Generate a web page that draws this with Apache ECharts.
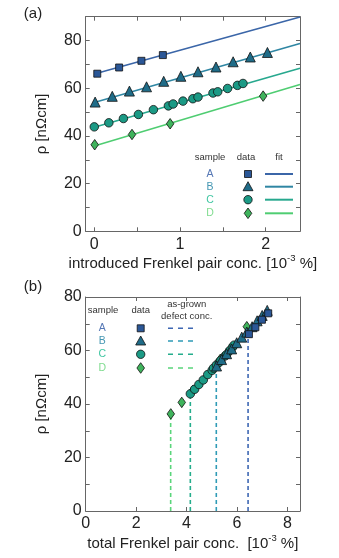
<!DOCTYPE html>
<html>
<head>
<meta charset="utf-8">
<script src="https://cdn.jsdelivr.net/npm/echarts@6/dist/echarts.min.js"></script>
<style>html,body{margin:0;padding:0;background:#fff;}#c{width:339px;height:558px;}</style>
</head>
<body>
<div id="c"></div>
<script>
// ---- data (panel a: introduced Frenkel pair conc. vs resistivity) ----
const samples = ['A', 'B', 'C', 'D'];
const xA = [0.035, 0.29, 0.55, 0.80];
const yA = [66.1, 68.7, 71.5, 73.9];
const xB = [0.01, 0.21, 0.41, 0.61, 0.81, 1.01, 1.21, 1.42, 1.62, 1.82, 2.02];
const yB = [54.2, 56.6, 58.8, 60.6, 62.9, 65.0, 66.9, 68.9, 71.1, 73.1, 75.0];
const xC = [0.0, 0.17, 0.34, 0.515, 0.69, 0.865, 0.92, 1.035, 1.15, 1.21, 1.385, 1.44, 1.555, 1.67, 1.735];
const yC = [43.8, 45.5, 47.3, 49.0, 51.0, 52.6, 53.4, 54.6, 55.6, 56.3, 58.0, 58.5, 59.9, 61.2, 62.0];
const xD = [0.005, 0.44, 0.885, 1.97, 3.02];
const yD = [36.3, 40.6, 45.1, 56.7, 68.9];
// fit lines: value at x = fitX[0], fitX[1]
const fitX = [0, 2.4];
const fitA = [66.0, 89.9];
const fitB = [54.0, 78.8];
const fitC = [43.6, 68.4];
const fitD = [35.8, 61.6];
// as-grown defect conc. (panel b offset)
const asGrown = [6.44, 5.18, 4.15, 3.37];
// ticks
const aXTicks = [0, 0.5, 1, 1.5, 2];
const aXLabels = [0, 1, 2];
const aYTicks = [0, 10, 20, 30, 40, 50, 60, 70, 80, 90];
const aYLabels = [0, 20, 40, 60, 80];
const bXTicks = [0, 2, 4, 6, 8];
const bXLabels = [0, 2, 4, 6, 8];
const bYTicks = [0, 10, 20, 30, 40, 50, 60, 70, 80];
const bYLabels = [0, 20, 40, 60, 80];

const FONT = '"Liberation Sans", Arial, Helvetica, sans-serif';
const markerFill = ['#2b5797', '#1f6c88', '#1b9a85', '#3fb35c'];
const fitColor = ['#3b66a8', '#2f86a3', '#27a88e', '#4fcd72'];
const letterColor = ['#5577b5', '#4597b3', '#40c6a2', '#80dc90'];
const dashColor = ['#3d67b3', '#2f9bb6', '#25ad8c', '#5ad57b'];
const symbols = ['rect', 'triangle', 'circle', 'diamond'];
const symSizes = [7, 10, 8.5, [7.5, 10.5]];

const xs = [xA, xB, xC, xD];
const ys = [yA, yB, yC, yD];
const fits = [fitA, fitB, fitC, fitD];

const zip = (a, b) => a.map((v, i) => [v, b[i]]);

const axisLineStyle = { color: '#666', width: 1 };
function mkX(grid, min, max, ticks, labels, pos, name, gap) {
  const show = pos === 'bottom';
  return {
    type: 'value', gridIndex: grid, min: min, max: max, position: pos,
    axisLine: { show: true, onZero: false, lineStyle: axisLineStyle },
    axisTick: { show: true, inside: true, length: 4, lineStyle: axisLineStyle, customValues: ticks },
    axisLabel: { show: show, customValues: labels, color: '#222', fontSize: 16, fontFamily: FONT, margin: 5 },
    splitLine: { show: false },
    name: show ? name : '', nameLocation: 'middle', nameGap: gap,
    nameTextStyle: {
      rich: {
        t: { fontSize: 15, color: '#222', fontFamily: FONT, lineHeight: 18, verticalAlign: 'bottom' },
        s: { fontSize: 9.5, color: '#222', fontFamily: FONT, lineHeight: 18, verticalAlign: 'top' }
      }
    }
  };
}
function mkY(grid, min, max, ticks, labels, pos, name, gap) {
  const show = pos === 'left';
  return {
    type: 'value', gridIndex: grid, min: min, max: max, position: pos,
    axisLine: { show: true, onZero: false, lineStyle: axisLineStyle },
    axisTick: { show: true, inside: true, length: 4, lineStyle: axisLineStyle, customValues: ticks },
    axisLabel: { show: show, customValues: labels, color: '#222', fontSize: 16, fontFamily: FONT, margin: 4 },
    splitLine: { show: false },
    name: show ? name : '', nameLocation: 'middle', nameGap: gap,
    nameTextStyle: { fontSize: 15, color: '#222', fontFamily: FONT }
  };
}

const series = [];
// panel (a) fit lines
for (let i = 0; i < 4; i++) {
  series.push({
    type: 'line', xAxisIndex: 0, yAxisIndex: 0, data: zip(fitX, fits[i]),
    symbol: 'none', lineStyle: { color: fitColor[i], width: 1.6 }, clip: true, z: 2, silent: true
  });
}
// panel (a) markers
for (let i = 0; i < 4; i++) {
  series.push({
    type: 'scatter', xAxisIndex: 0, yAxisIndex: 0, data: zip(xs[i], ys[i]),
    symbol: symbols[i], symbolSize: symSizes[i], clip: true, z: 3,
    itemStyle: { color: markerFill[i], borderColor: '#111', borderWidth: 0.8, opacity: 1 }
  });
}
// panel (b) dashed as-grown lines
for (let i = 0; i < 4; i++) {
  series.push({
    type: 'line', xAxisIndex: 2, yAxisIndex: 2,
    data: [[asGrown[i], 0], [asGrown[i], ys[i][0]]],
    symbol: 'none', lineStyle: { color: dashColor[i], width: 1.6, type: [4, 3] }, z: 2, silent: true
  });
}
// panel (b) markers (draw D, C, B, A)
for (let i = 3; i >= 0; i--) {
  series.push({
    type: 'scatter', xAxisIndex: 2, yAxisIndex: 2,
    data: zip(xs[i].map(v => +(v + asGrown[i]).toFixed(3)), ys[i]),
    symbol: symbols[i], symbolSize: symSizes[i], clip: true, z: 3 + (3 - i),
    itemStyle: { color: markerFill[i], borderColor: '#111', borderWidth: 0.8, opacity: 1 }
  });
}

// legends (graphic)
function legendMarker(i, cx, cy) {
  const st = { fill: markerFill[i], stroke: '#111', lineWidth: 0.8 };
  if (i === 0) return { type: 'rect', shape: { x: cx - 3.5, y: cy - 3.5, width: 7, height: 7 }, style: st };
  if (i === 1) return { type: 'polygon', shape: { points: [[cx, cy - 5], [cx + 5, cy + 4], [cx - 5, cy + 4]] }, style: st };
  if (i === 2) return { type: 'circle', shape: { cx: cx, cy: cy, r: 4.2 }, style: st };
  return { type: 'polygon', shape: { points: [[cx, cy - 5.3], [cx + 3.8, cy], [cx, cy + 5.3], [cx - 3.8, cy]] }, style: st };
}
function txt(x, y, text, color, size) {
  return { type: 'text', x: x, y: y, style: { text: text, fill: color, font: size + 'px ' + FONT, align: 'center', verticalAlign: 'middle' } };
}
const graphic = [];
graphic.push(txt(33, 14, '(a)', '#222', 15));
graphic.push(txt(33, 287, '(b)', '#222', 15));
// legend a
const rowsA = [174, 186.7, 199.7, 213.3];
graphic.push(txt(210, 157, 'sample', '#333', 9.5));
graphic.push(txt(246, 157, 'data', '#333', 9.5));
graphic.push(txt(279, 157, 'fit', '#333', 9.5));
for (let i = 0; i < 4; i++) {
  graphic.push(txt(210, rowsA[i], samples[i], letterColor[i], 10.5));
  graphic.push(legendMarker(i, 248, rowsA[i]));
  graphic.push({ type: 'line', shape: { x1: 265, y1: rowsA[i], x2: 293, y2: rowsA[i] }, style: { stroke: fitColor[i], lineWidth: 2 } });
}
// legend b
const rowsB = [328.3, 341, 354.3, 368];
graphic.push(txt(103, 310.7, 'sample', '#333', 9.5));
graphic.push(txt(140.7, 310.7, 'data', '#333', 9.5));
graphic.push(txt(186.7, 304.5, 'as-grown', '#333', 9.5));
graphic.push(txt(186.7, 316, 'defect conc.', '#333', 9.5));
for (let i = 0; i < 4; i++) {
  graphic.push(txt(102.3, rowsB[i], samples[i], letterColor[i], 10.5));
  graphic.push(legendMarker(i, 140.7, rowsB[i]));
  graphic.push({ type: 'line', shape: { x1: 168, y1: rowsB[i], x2: 193.5, y2: rowsB[i] }, style: { stroke: dashColor[i], lineWidth: 1.6, lineDash: [5, 5] } });
}

const option = {
  animation: false,
  backgroundColor: '#fff',
  grid: [
    { left: 85.7, right: 39, top: 16.7, height: 214.6 },
    { left: 85.7, right: 39, top: 297, height: 214 }
  ],
  xAxis: [
    mkX(0, -0.1, 2.4, aXTicks, aXLabels, 'bottom', '{t|introduced Frenkel pair conc. [10}{s|-3}{t| %]}', 22),
    mkX(0, -0.1, 2.4, aXTicks, aXLabels, 'top', '', 0),
    mkX(1, 0, 8.5, bXTicks, bXLabels, 'bottom', '{t|total Frenkel pair conc.  [10}{s|-3}{t| %]}', 22),
    mkX(1, 0, 8.5, bXTicks, bXLabels, 'top', '', 0)
  ],
  yAxis: [
    mkY(0, 0, 90, aYTicks, aYLabels, 'left', 'ρ [nΩcm]', 36),
    mkY(0, 0, 90, aYTicks, aYLabels, 'right', '', 0),
    mkY(1, 0, 80, bYTicks, bYLabels, 'left', 'ρ [nΩcm]', 36),
    mkY(1, 0, 80, bYTicks, bYLabels, 'right', '', 0)
  ],
  series: series,
  graphic: graphic
};
const chart = echarts.init(document.getElementById('c'), null, { renderer: 'canvas' });
chart.setOption(option);
</script>
</body>
</html>
